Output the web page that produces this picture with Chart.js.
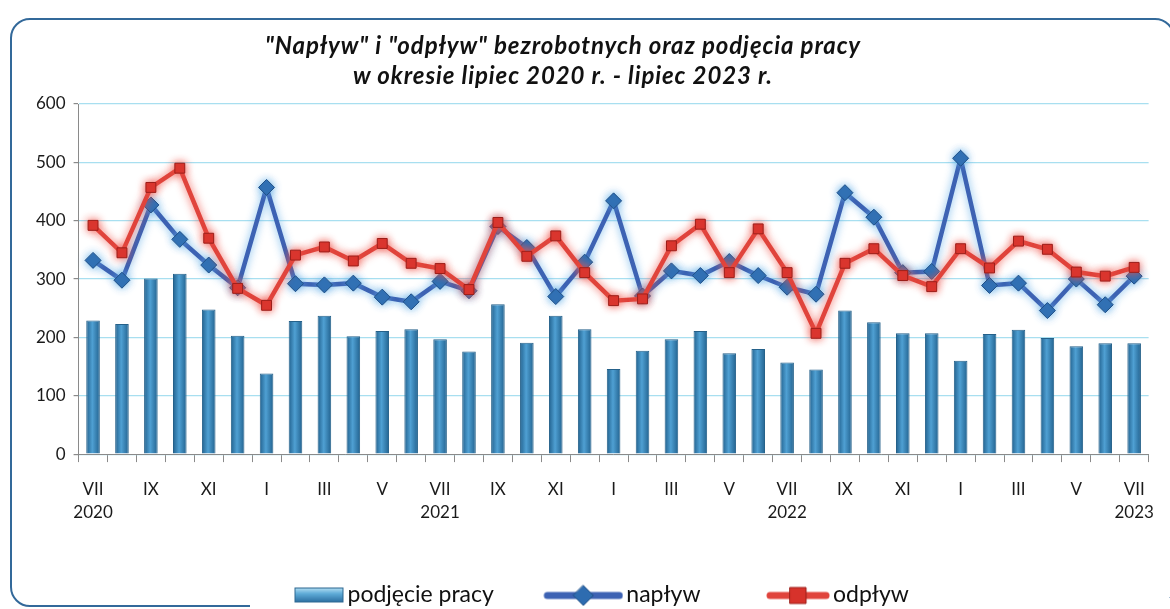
<!DOCTYPE html>
<html>
<head>
  <meta charset="utf-8">
  <title>Napływ i odpływ bezrobotnych</title>
  <style>
    html, body { margin: 0; padding: 0; background: #fff; overflow: hidden; }
    .frame {
      position: absolute;
      left: 10px; top: 18px;
      width: 1165px; height: 589px;
      border: 2px solid #33699a;
      border-radius: 20px;
      box-sizing: border-box;
    }
    .cover { position: absolute; left: 250px; top: 598px; width: 940px; height: 11px; background: #fff; }
    .wrap { position: absolute; left: 0; top: 0; width: 1170px; height: 609px; }
    .title {
      position: absolute;
      left: 163px; width: 800px; top: 30px;
      text-align: center;
      font-family: Lato, "Open Sans", sans-serif;
      font-weight: bold; font-style: italic;
      font-size: 24px; line-height: 30px;
      letter-spacing: 0.9px;
      color: #111;
    }
  </style>
</head>
<body>
  <div class="frame"></div>
  <div class="cover"></div>
  <div class="wrap"><canvas id="chart"></canvas></div>
  <div class="title">"Napływ" i "odpływ" bezrobotnych oraz podjęcia pracy<br>w okresie lipiec 2020 r. - lipiec 2023 r.</div>

  <script src="https://cdn.jsdelivr.net/npm/chart.js"></script>
  <script>
    // miesiące lipiec 2020 - lipiec 2023
    const months = ['VII','VIII','IX','X','XI','XII','I','II','III','IV','V','VI',
                    'VII','VIII','IX','X','XI','XII','I','II','III','IV','V','VI',
                    'VII','VIII','IX','X','XI','XII','I','II','III','IV','V','VI','VII'];
    const yearLabels = {0: '2020', 12: '2021', 24: '2022', 36: '2023'};

    const podjecie = [229, 223, 301, 309, 248, 203, 138, 228, 237, 202, 211, 214, 197,
                      176, 257, 191, 237, 214, 146, 177, 197, 211, 173, 180, 157,
                      145, 246, 226, 207, 207, 160, 206, 213, 199, 185, 190, 190];
    const naplyw   = [332, 298, 427, 368, 324, 285, 457, 292, 290, 293, 269, 261, 296,
                      280, 390, 354, 270, 329, 434, 271, 314, 306, 330, 306, 286,
                      274, 448, 406, 311, 313, 507, 289, 293, 246, 300, 256, 305];
    const odplyw   = [392, 345, 457, 490, 370, 284, 255, 341, 355, 331, 361, 327, 318,
                      282, 397, 339, 374, 311, 263, 266, 357, 394, 311, 386, 311,
                      207, 327, 352, 306, 287, 352, 319, 365, 351, 312, 305, 320];

    const labels = months.map((m, i) => yearLabels[i] ? [m, yearLabels[i]] : m);

    // ikonki do legendy (linia + znacznik, słupek), dosunięte do prawej
    const ICON_W = 95;
    function legendIcon(kind, w) {
      const c = document.createElement('canvas');
      c.width = ICON_W; c.height = 24;
      const g = c.getContext('2d');
      const x0 = ICON_W - w;
      if (kind === 'bar') {
        const gr = g.createLinearGradient(0, 4, 0, 20);
        gr.addColorStop(0, '#c8ebf9');
        gr.addColorStop(0.45, '#5eabd8');
        gr.addColorStop(1, '#2a6c9e');
        g.fillStyle = gr;
        g.fillRect(x0, 5, w - 1, 15);
        g.strokeStyle = '#2c6790';
        g.strokeRect(x0 + 0.5, 5.5, w - 2, 14);
      } else {
        const mid = x0 + w / 2;
        g.strokeStyle = kind === 'blue' ? '#3d62b3' : '#e0443c';
        g.lineWidth = 7;
        g.lineCap = 'round';
        g.beginPath(); g.moveTo(x0 + 4, 13); g.lineTo(ICON_W - 4, 13); g.stroke();
        g.fillStyle = kind === 'blue' ? '#2e6cb0' : '#d7322b';
        g.strokeStyle = kind === 'blue' ? '#1f4f86' : '#9c1f1a';
        g.lineWidth = 1;
        g.beginPath();
        if (kind === 'blue') {
          g.moveTo(mid, 3); g.lineTo(mid + 10, 13); g.lineTo(mid, 23); g.lineTo(mid - 10, 13); g.closePath();
        } else {
          g.rect(mid - 8, 5, 16, 16);
        }
        g.fill(); g.stroke();
      }
      return c;
    }
    const icons = [legendIcon('bar', 50), legendIcon('blue', 80), legendIcon('red', 64)];

    // delikatna poświata pod liniami
    const glowPlugin = {
      id: 'glow',
      beforeDatasetDraw(chart, args) {
        const ds = chart.data.datasets[args.index];
        if (!ds.glow) return;
        chart.ctx.save();
        chart.ctx.shadowColor = ds.glow;
        chart.ctx.shadowBlur = 8;
      },
      afterDatasetDraw(chart, args) {
        const ds = chart.data.datasets[args.index];
        if (!ds.glow) return;
        chart.ctx.restore();
      }
    };

    // słupek "walcowy" - jasny środek, ciemne brzegi
    function barFill(c) {
      const el = c.element;
      if (!el || !isFinite(el.x) || !el.width) return '#3a8cc2';
      const g = c.chart.ctx.createLinearGradient(el.x - el.width / 2, 0, el.x + el.width / 2, 0);
      g.addColorStop(0, '#22628f');
      g.addColorStop(0.45, '#4fa0d3');
      g.addColorStop(1, '#22628f');
      return g;
    }

    const ctx = document.getElementById('chart').getContext('2d');
    const font = 'Lato, "Open Sans", sans-serif';

    const chart = new Chart(ctx, {
      type: 'bar',
      data: {
        labels: labels,
        datasets: [
          {
            type: 'bar',
            label: 'podjęcie pracy',
            data: podjecie,
            backgroundColor: barFill,
            borderColor: '#25618a',
            borderWidth: 1,
            categoryPercentage: 1.0,
            barPercentage: 0.47,
            order: 3
          },
          {
            type: 'line',
            label: 'napływ',
            data: naplyw,
            borderColor: '#3d62b3',
            borderWidth: 4.5,
            pointStyle: 'rectRot',
            pointRadius: 8,
            pointBackgroundColor: '#2e6cb0',
            pointBorderColor: '#1f4f86',
            pointBorderWidth: 1,
            glow: 'rgba(90,170,230,0.85)',
            order: 2
          },
          {
            type: 'line',
            label: 'odpływ',
            data: odplyw,
            borderColor: '#e0443c',
            borderWidth: 4.5,
            pointStyle: 'rect',
            pointRadius: 7,
            pointBackgroundColor: '#d7322b',
            pointBorderColor: '#9c1f1a',
            pointBorderWidth: 1,
            glow: 'rgba(240,80,70,0.9)',
            order: 1
          }
        ]
      },
      options: {
        responsive: true,
        maintainAspectRatio: false,
        animation: false,
        layout: { padding: { left: 28, right: 8, top: 104, bottom: -7 } },
        scales: {
          x: {
            offset: true,
            grid: {
              offset: true,
              drawOnChartArea: false,
              drawTicks: true,
              tickLength: 8,
              color: '#8a8a8a'
            },
            border: { color: '#8a8a8a', width: 1 },
            ticks: {
              autoSkip: false,
              maxRotation: 0,
              padding: 16,
              color: '#1a1a1a',
              font: { family: font, size: 17, lineHeight: 1.35 },
              callback: function (value, index) {
                return index % 2 === 0 ? labels[index] : '';
              }
            }
          },
          y: {
            min: 0,
            max: 600,
            ticks: {
              stepSize: 100,
              padding: 8,
              color: '#1a1a1a',
              font: { family: font, size: 17 }
            },
            grid: {
              color: '#a8dff0',
              lineWidth: 1.2,
              tickLength: 5,
              tickColor: '#8a8a8a'
            },
            border: { color: '#8a8a8a', width: 1 }
          }
        },
        plugins: {
          title: { display: false },
          legend: {
            position: 'bottom',
            labels: {
              usePointStyle: true,
              pointStyleWidth: 78,
              padding: 43,
              color: '#111',
              font: { family: font, size: 23 },
              generateLabels: function (ch) {
                const items = Chart.defaults.plugins.legend.labels.generateLabels(ch);
                items.sort((a, b) => a.datasetIndex - b.datasetIndex);
                items.forEach(it => { it.pointStyle = icons[it.datasetIndex]; });
                // odstęp na końcu - przesuwa całą legendę trochę w lewo
                items[items.length - 1].text += '\u2003 ';
                return items;
              }
            }
          },
          tooltip: { enabled: false }
        }
      },
      plugins: [glowPlugin]
    });
    chart.update();
  </script>
</body>
</html>
